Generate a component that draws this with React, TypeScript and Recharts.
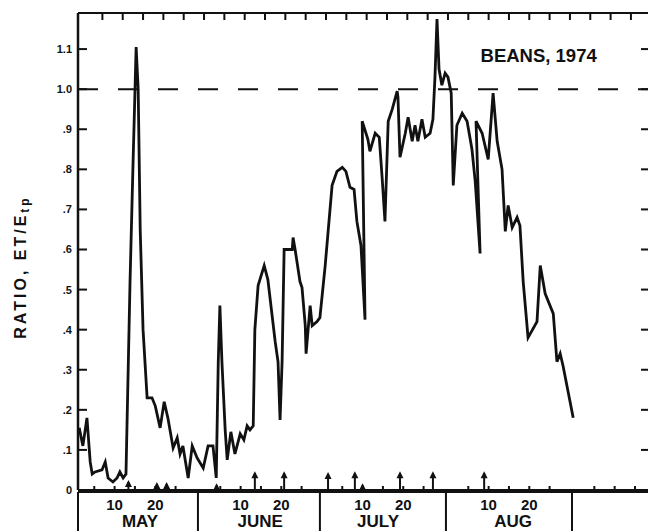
import React from "react";
import { LineChart, Line, XAxis, YAxis, ReferenceLine, ReferenceDot } from "recharts";

// --- Data ---
// day index: May 1 = 1, June 1 = 32, July 1 = 62, Aug 1 = 93, Sep 1 = 124

const DAYS = [
  2.8, 3.7, 4.7, 5.5, 6.0, 6.7, 8.4, 9.2, 9.9, 11.1,
  12.1, 12.8, 13.6, 14.3, 15.3, 16.0, 16.8, 17.3, 17.8, 18.5,
  19.5, 20.7, 21.5, 22.7, 23.7, 24.6, 25.9, 26.9, 27.6, 28.3,
  29.6, 30.6, 31.8, 33.3, 34.5, 35.7, 36.5, 37.0, 37.4, 37.9,
  38.7, 39.2, 40.1, 41.1, 42.4, 43.3, 44.1, 44.8, 45.6, 46.0,
  46.8, 48.3, 49.2, 51.0, 51.7, 52.2, 52.7, 53.2, 55.2, 55.4,
  55.9, 57.1, 57.6, 58.4, 58.6, 59.6, 60.1, 61.3, 62.0, 63.3,
  65.0, 66.2, 67.5, 68.4, 69.4, 70.4, 71.1, 72.1, 73.1, 72.4,
  73.8, 74.3, 75.6, 76.6, 77.3, 78.0, 78.8, 79.8, 81.0, 81.2,
  81.7, 83.0, 83.7, 84.7, 85.4, 86.1, 87.1, 87.9, 89.1, 89.8,
  90.3, 90.8, 91.3, 92.0, 92.8, 93.5, 94.3, 94.8, 95.7, 97.0,
  98.2, 99.4, 100.2, 101.4, 100.4, 101.9, 103.4, 104.6, 105.6, 106.8,
  107.6, 108.3, 109.3, 110.5, 111.2, 112.0, 113.2, 115.4, 116.2, 117.4,
  119.4, 120.3, 121.1, 121.8, 124.3,
];

const RATIO = [
  0.155, 0.11, 0.18, 0.07, 0.04, 0.045, 0.05, 0.07, 0.03, 0.02,
  0.03, 0.045, 0.03, 0.04, 0.52, 0.8, 1.105, 1.0, 0.65, 0.4,
  0.23, 0.23, 0.21, 0.155, 0.22, 0.18, 0.105, 0.13, 0.09, 0.11,
  0.03, 0.11, 0.08, 0.055, 0.11, 0.11, 0.03, 0.32, 0.46, 0.32,
  0.15, 0.075, 0.145, 0.09, 0.14, 0.125, 0.16, 0.15, 0.16, 0.4,
  0.51, 0.56, 0.525, 0.37, 0.32, 0.175, 0.32, 0.6, 0.6, 0.63,
  0.6, 0.52, 0.505, 0.41, 0.34, 0.46, 0.41, 0.42, 0.43, 0.56,
  0.76, 0.795, 0.805, 0.795, 0.755, 0.75, 0.67, 0.61, 0.425, 0.92,
  0.875, 0.845, 0.89, 0.88, 0.78, 0.67, 0.92, 0.95, 0.995, 0.98,
  0.83, 0.89, 0.93, 0.87, 0.91, 0.87, 0.925, 0.88, 0.89, 0.925,
  1.03, 1.175, 1.05, 1.01, 1.04, 1.03, 0.99, 0.76, 0.91, 0.94,
  0.92, 0.85, 0.77, 0.59, 0.92, 0.89, 0.825, 0.99, 0.87, 0.8,
  0.645, 0.71, 0.655, 0.68, 0.66, 0.52, 0.38, 0.42, 0.56, 0.49,
  0.44, 0.32, 0.34, 0.31, 0.18,
];

// irrigation / rain arrows along the bottom
const ARROW_DAYS = [14.9, 21.9, 24.3, 36.6, 46.0, 53.2, 64.0, 70.6, 72.5, 81.7, 89.8, 102.4];
const ARROW_TIPS = [0.02, 0.015, 0.015, 0.012, 0.042, 0.042, 0.04, 0.042, 0.012, 0.042, 0.042, 0.042];

const MONTHS = ["MAY", "JUNE", "JULY", "AUG"];
const MONTH_STARTS = [1, 32, 62, 93, 124];
const MONTH_LABEL_DAYS = [17.75, 47.3, 76.3, 109.5];
const TICK_DATES = [5, 10, 15, 20, 25];
const LABELLED_DATES = [10, 20];
const SEP_TICK_DATES = [5, 10, 15];

const Y_TICKS = [0, 0.1, 0.2, 0.3, 0.4, 0.5, 0.6, 0.7, 0.8, 0.9, 1.0, 1.1];
const Y_LABELS = ["0", ".1", ".2", ".3", ".4", ".5", ".6", ".7", ".8", ".9", "1.0", "1.1"];
const TOP_TICKS = [
  8.5, 13.5, 18.5, 23.5, 28.5, 33.5, 38.5, 43.5, 48.5, 53.5, 58.5, 63.5, 68.5, 73.5,
  78.5, 83.5, 88.5, 93.5, 98.5, 103.5, 108.5, 113.5, 118.5, 123.5, 128.5, 133.5, 138.5,
];

const TITLE = "BEANS, 1974";
const Y_TITLE = "RATIO, ET/E";
const Y_TITLE_SUB = "tp";

// --- Constants ---

const W = 649;
const H = 531;
const X_DOMAIN: [number, number] = [2.5, 142.7];
const Y_DOMAIN: [number, number] = [0, 1.19];
const INK = "#111";
const FONT = '"Liberation Sans", Arial, sans-serif';

const data = DAYS.map((d, i) => ({ d, r: RATIO[i] }));

type BottomTick = { d: number; kind: "day" | "edge" | "month"; label?: string };
const bottomTicks: BottomTick[] = [{ d: X_DOMAIN[0], kind: "edge" }];
MONTHS.forEach((m, i) => {
  if (i > 0) bottomTicks.push({ d: MONTH_STARTS[i], kind: "edge" });
  TICK_DATES.forEach((dt) =>
    bottomTicks.push({
      d: MONTH_STARTS[i] + dt + 0.5,
      kind: "day",
      label: LABELLED_DATES.includes(dt) ? String(dt) : undefined,
    })
  );
  bottomTicks.push({ d: MONTH_LABEL_DAYS[i], kind: "month", label: m });
});
bottomTicks.push({ d: MONTH_STARTS[4], kind: "edge" });
SEP_TICK_DATES.forEach((dt) => bottomTicks.push({ d: MONTH_STARTS[4] + dt + 0.5, kind: "day" }));
const bottomMap = new Map(bottomTicks.map((t) => [t.d, t]));

// --- Ticks ---

function LeftTick(props: any) {
  const { x, y, payload } = props;
  const i = Y_TICKS.indexOf(payload.value);
  return (
    <g>
      <line x1={x} x2={x + 9} y1={y} y2={y} stroke={INK} strokeWidth={2} />
      <text x={x - 6} y={y + 4} textAnchor="end" fontFamily={FONT} fontWeight={700} fontSize={11} fill={INK}>
        {Y_LABELS[i]}
      </text>
    </g>
  );
}

function RightTick(props: any) {
  const { x, y, payload } = props;
  if (payload.value === 0) return <g />;
  return <line x1={x - 7} x2={x} y1={y} y2={y} stroke={INK} strokeWidth={2} />;
}

function TopTick(props: any) {
  const { x, y } = props;
  return <line x1={x} x2={x} y1={y} y2={y + 7} stroke={INK} strokeWidth={2} />;
}

function BottomTickMark(props: any) {
  const { x, y, payload } = props;
  const t = bottomMap.get(payload.value);
  if (!t) return <g />;
  if (t.kind === "edge") {
    return <line x1={x} x2={x} y1={y} y2={y + 41} stroke={INK} strokeWidth={2} />;
  }
  if (t.kind === "month") {
    return (
      <text x={x} y={y + 35} textAnchor="middle" fontFamily={FONT} fontWeight={700} fontSize={17} fill={INK}>
        {t.label}
      </text>
    );
  }
  return (
    <g>
      <line x1={x} x2={x} y1={y} y2={y - 6} stroke={INK} strokeWidth={2} />
      {t.label && (
        <text x={x} y={y + 18} textAnchor="middle" fontFamily={FONT} fontWeight={700} fontSize={15} fill={INK}>
          {t.label}
        </text>
      )}
    </g>
  );
}

function YTitle(props: any) {
  const vb = props.viewBox;
  const cx = vb.x + 20;
  const cy = vb.y + 254;
  return (
    <text
      x={cx}
      y={cy}
      transform={`rotate(-90 ${cx} ${cy})`}
      textAnchor="middle"
      dominantBaseline="central"
      fontFamily={FONT}
      fontWeight={700}
      fontSize={16}
      letterSpacing={3}
      fill={INK}
    >
      {Y_TITLE}
      <tspan fontSize={12} dy={5}>
        {Y_TITLE_SUB}
      </tspan>
    </text>
  );
}

function TitleLabel(props: any) {
  const vb = props.viewBox;
  return (
    <text
      x={vb.x + vb.width / 2}
      y={vb.y + vb.height / 2}
      textAnchor="middle"
      dominantBaseline="central"
      fontFamily={FONT}
      fontWeight={700}
      fontSize={18.5}
      fill={INK}
    >
      {TITLE}
    </text>
  );
}

function ArrowHead(props: any) {
  const { cx, cy } = props;
  return <path d={`M${cx},${cy - 2} L${cx + 3.5},${cy + 5} L${cx - 3.5},${cy + 5} Z`} fill={INK} />;
}

// --- Main ---

export default function App() {
  return (
    <div style={{ position: "absolute", left: 0, top: 0, width: W, height: H, background: "#fff" }}>
      <LineChart width={W} height={H} data={data} margin={{ top: 0, right: 0, bottom: 0, left: 0 }}>
        <XAxis
          xAxisId="top"
          orientation="top"
          dataKey="d"
          type="number"
          domain={X_DOMAIN}
          allowDataOverflow
          ticks={TOP_TICKS}
          interval={0}
          height={13}
          tickSize={0}
          tickMargin={0}
          tickLine={false}
          axisLine={{ stroke: INK, strokeWidth: 2 }}
          tick={(p: any) => <TopTick {...p} />}
        />
        <XAxis
          xAxisId="x"
          dataKey="d"
          type="number"
          domain={X_DOMAIN}
          allowDataOverflow
          ticks={bottomTicks.map((t) => t.d)}
          interval={0}
          height={39}
          tickSize={0}
          tickMargin={0}
          tickLine={false}
          axisLine={{ stroke: INK, strokeWidth: 2 }}
          tick={(p: any) => <BottomTickMark {...p} />}
        />
        <XAxis
          xAxisId="box"
          dataKey="d"
          type="number"
          domain={X_DOMAIN}
          allowDataOverflow
          height={2}
          tick={false}
          tickLine={false}
          axisLine={{ stroke: INK, strokeWidth: 2 }}
        />
        <YAxis
          yAxisId="y"
          type="number"
          domain={Y_DOMAIN}
          allowDataOverflow
          ticks={Y_TICKS}
          interval={0}
          width={78}
          tickSize={0}
          tickMargin={0}
          tickLine={false}
          axisLine={{ stroke: INK, strokeWidth: 2.5 }}
          tick={(p: any) => <LeftTick {...p} />}
          label={{ content: (p: any) => <YTitle {...p} /> }}
        />
        <YAxis
          yAxisId="right"
          orientation="right"
          type="number"
          domain={Y_DOMAIN}
          allowDataOverflow
          ticks={Y_TICKS}
          interval={0}
          width={1}
          tickSize={0}
          tickMargin={0}
          tickLine={false}
          axisLine={false}
          tick={(p: any) => <RightTick {...p} />}
        />
        <ReferenceLine
          xAxisId="x"
          yAxisId="y"
          y={1}
          stroke={INK}
          strokeWidth={2}
          strokeDasharray="20 20"
        />
        {ARROW_DAYS.map((d, i) => (
          <ReferenceLine
            key={`stem-${i}`}
            xAxisId="x"
            yAxisId="y"
            segment={[
              { x: d, y: 0 },
              { x: d, y: ARROW_TIPS[i] },
            ]}
            stroke={INK}
            strokeWidth={2}
          />
        ))}
        {ARROW_DAYS.map((d, i) => (
          <ReferenceDot
            key={`head-${i}`}
            xAxisId="x"
            yAxisId="y"
            x={d}
            y={ARROW_TIPS[i]}
            r={3}
            shape={(p: any) => <ArrowHead {...p} />}
          />
        ))}
        <ReferenceDot
          xAxisId="x"
          yAxisId="y"
          x={115.8}
          y={1.084}
          r={1}
          fill="none"
          stroke="none"
          label={{ content: (p: any) => <TitleLabel {...p} /> }}
        />
        <Line
          xAxisId="x"
          yAxisId="y"
          type="linear"
          dataKey="r"
          stroke={INK}
          strokeWidth={2.8}
          dot={false}
          activeDot={false}
          isAnimationActive={false}
        />
      </LineChart>
    </div>
  );
}
